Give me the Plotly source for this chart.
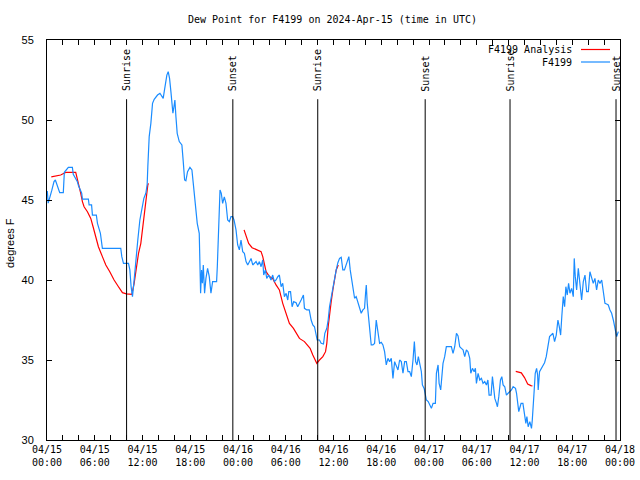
import pandas as pd
import plotly.graph_objects as go

BASE = pd.Timestamp("2024-04-15 00:00")

# Station observations (hours after 04/15 00:00 UTC, dew point F)
obs_hours = [0.04, 0.15, 0.6, 0.88, 1.05, 1.3, 1.6, 2.05, 2.18, 2.68, 3.19, 3.3, 3.82, 3.95, 4.36, 4.45,
             5.2, 5.29, 5.6, 5.71, 6.2, 6.34, 6.55, 6.71, 6.96, 9.27, 9.4, 9.61, 10.24, 10.41, 10.57, 10.74,
             10.91, 11.16, 11.41, 11.67, 11.92, 12.17, 12.42, 12.59, 12.67, 12.84, 13.05, 13.26, 13.47, 13.89,
             14.19, 14.43, 14.6, 14.73, 14.85, 15.06, 15.23, 15.4, 15.57, 15.69, 15.82, 15.95, 16.07, 16.2,
             16.36, 16.62, 16.95, 17.12, 17.29, 17.45, 17.66, 17.96, 18.21, 18.38, 18.63, 18.88, 19.13, 19.22,
             19.3, 19.42, 19.53, 19.64, 19.8, 19.97, 20.18, 20.39, 20.6, 20.81, 21.31, 21.4, 21.57, 21.74,
             21.9, 22.07, 22.28, 22.49, 22.7, 22.91, 23.12, 23.33, 23.5, 23.75, 23.96, 24.17, 24.38, 24.59,
             24.8, 25.01, 25.22, 25.43, 25.64, 25.85, 26.06, 26.27, 26.48, 26.69, 26.9, 27.11, 27.23, 27.44,
             27.61, 27.86, 28.15, 28.36, 28.57, 28.78, 29.0, 29.2, 29.42, 29.62, 29.83, 30.05, 30.25, 30.38,
             30.6, 30.8, 31.0, 31.3, 31.5, 31.7, 31.93, 32.22, 32.35, 32.64, 32.95, 33.19, 33.4, 33.61,
             33.82, 33.95, 34.24, 34.45, 34.74, 34.91, 35.16, 35.33, 35.5, 35.71, 35.92, 36.13, 36.34, 36.55,
             36.76, 36.97, 37.17, 37.38, 37.6, 37.8, 37.93, 38.1, 38.27, 38.43, 38.65, 38.85, 39.06, 39.27,
             39.48, 39.69, 39.9, 40.03, 40.12, 40.24, 40.45, 40.62, 40.74, 40.95, 41.16, 41.37, 41.58, 41.79,
             42.0, 42.21, 42.42, 42.63, 42.84, 43.05, 43.26, 43.47, 43.68, 43.89, 44.1, 44.31, 44.52, 44.73,
             44.94, 45.15, 45.36, 45.57, 45.78, 45.99, 46.16, 46.32, 46.49, 46.66, 46.83, 47.04, 47.17, 47.4,
             47.67, 47.9, 48.3, 48.51, 48.8, 48.93, 49.14, 49.27, 49.47, 49.6, 49.76, 49.97, 50.18, 50.81,
             51.02, 51.23, 51.45, 51.65, 51.86, 52.07, 52.28, 52.49, 52.7, 52.9, 53.12, 53.25, 53.46, 53.67,
             53.83, 53.96, 54.17, 54.38, 54.59, 54.79, 55.0, 55.22, 55.4, 55.55, 55.8, 55.97, 56.14, 56.27,
             56.48, 56.6, 56.77, 56.98, 57.15, 57.31, 57.52, 57.73, 57.94, 58.15, 58.36, 58.57, 58.87, 59.0,
             59.15, 59.28, 59.45, 59.57, 59.8, 60.04, 60.17, 60.3, 60.46, 60.67, 60.88, 60.98, 61.09, 61.22,
             61.35, 61.52, 61.65, 61.72, 61.89, 62.1, 62.31, 62.52, 62.73, 62.94, 63.15, 63.57, 63.78, 63.99,
             64.2, 64.37, 64.54, 64.7, 64.87, 65.04, 65.2, 65.37, 65.54, 65.71, 65.92, 66.13, 66.25, 66.38,
             66.55, 66.76, 66.97, 67.18, 67.39, 67.6, 67.81, 68.02, 68.22, 68.43, 68.64, 68.85, 69.06, 69.27,
             69.48, 69.7, 69.9, 70.11, 70.32, 70.53, 70.74, 70.95, 71.16, 71.37, 71.58, 71.79]
obs_values = [45.56, 44.8, 45.6, 46.15, 46.25, 45.83, 45.46, 45.46, 46.73, 47.04, 47.04, 46.6, 46.14, 45.9, 45.42, 45.06,
              45.06, 44.69, 44.69, 44.06, 44.06, 43.54, 43.17, 42.92, 41.98, 41.98, 41.46, 41.04, 41.04, 40.63, 39.58, 38.96,
              39.79, 41.46, 42.5, 43.75, 44.58, 45.1, 45.42, 46.0, 47.08, 48.96, 49.79, 51.04, 51.29, 51.56,
              51.67, 51.5, 51.35, 51.77, 52.29, 52.81, 53.02, 52.6, 51.77, 50.83, 50.42, 50.83, 51.25, 50.2,
              49.17, 48.65, 48.44, 47.4, 46.25, 46.2, 46.77, 47.04, 46.88, 46.04, 44.58, 43.54, 42.92, 41.04,
              39.17, 40.63, 39.8, 40.94, 39.17, 40.1, 40.73, 40.21, 39.17, 39.9, 39.9, 40.83, 43.13, 45.63,
              45.42, 44.79, 45.2, 44.79, 43.75, 43.65, 43.96, 43.96, 43.75, 43.13, 42.19, 41.88, 42.5, 41.77,
              41.67, 41.15, 40.94, 41.15, 41.35, 40.94, 41.04, 41.15, 40.94, 41.15, 40.83, 41.25, 40.31, 40.63,
              40.1, 40.31, 40.0, 40.31, 39.9, 40.0, 40.21, 40.31, 39.58, 39.79, 38.96, 39.17, 38.75, 39.27,
              39.27, 38.33, 38.65, 38.58, 38.33, 38.5, 38.75, 39.06, 38.23, 38.13, 38.13, 37.5, 37.19, 37.08,
              36.67, 36.25, 36.25, 36.04, 36.0, 36.67, 36.98, 37.5, 38.33, 38.96, 39.58, 40.21, 40.63, 41.08,
              41.35, 41.42, 40.63, 40.63, 40.94, 41.35, 41.46, 40.63, 40.0, 39.38, 38.86, 38.96, 38.65, 38.23,
              37.92, 38.13, 38.23, 39.17, 39.69, 38.54, 37.29, 36.46, 35.94, 35.94, 36.04, 37.5, 36.56, 36.04,
              36.1, 35.94, 35.52, 34.69, 35.1, 34.9, 35.1, 33.85, 34.9, 34.69, 34.38, 35.0, 34.9, 34.17,
              34.9, 34.9, 34.27, 34.27, 33.96, 35.0, 36.15, 34.9, 34.69, 35.21, 34.69, 34.27, 33.44, 33.2,
              32.5, 32.4, 31.98, 32.29, 32.29, 34.17, 34.69, 33.54, 33.13, 34.17, 34.79, 35.21, 35.83, 35.83,
              35.42, 35.83, 36.67, 36.5, 35.83, 35.73, 35.63, 35.21, 35.63, 35.52, 35.1, 34.17, 34.48, 34.27,
              34.48, 33.54, 34.17, 33.75, 33.85, 33.54, 33.65, 33.44, 33.75, 32.81, 32.81, 33.96, 33.33, 32.6,
              32.29, 32.08, 32.71, 33.75, 33.96, 33.44, 33.33, 32.81, 32.92, 33.02, 33.13, 33.33, 33.23, 32.92,
              32.4, 31.77, 32.08, 32.29, 32.29, 31.56, 31.04, 31.46, 30.83, 31.15, 30.73, 31.25, 32.5, 33.13,
              34.17, 34.48, 34.06, 33.13, 34.27, 34.48, 34.69, 34.83, 35.21, 35.83, 36.46, 36.67, 36.15, 36.56,
              37.5, 37.08, 36.56, 37.81, 38.96, 38.33, 39.58, 39.06, 39.79, 39.17, 39.48, 38.96, 41.35, 40.21,
              39.38, 40.73, 39.79, 38.75, 39.9, 40.31, 39.27, 39.27, 40.52, 40.1, 39.79, 40.1, 39.38, 40.0,
              39.79, 40.0, 39.17, 38.54, 38.5, 38.44, 38.13, 37.92, 37.5, 36.88, 36.46, 36.77]

# Analysis (three separate segments, None = gap)
ana_hours = [0.54, 1.0, 1.72, 2.14, 2.43, 3.61, 3.82, 4.03, 4.24, 4.45, 4.66, 5.08, 5.5, 5.79, 6.13, 6.46,
             6.96, 7.39, 7.89, 8.43, 8.98, 9.48, 9.98, 10.66, 10.95, 11.24, 11.5, 11.79, 12.0, 12.21, 12.34,
             12.5, 12.67, 12.75, 18.0,
             24.76, 25.01, 25.34, 25.77, 26.27, 26.9, 27.11, 27.32, 27.53, 27.95, 28.36, 28.78, 29.2, 29.62,
             30.05, 30.46, 30.97, 31.3, 31.72, 32.35, 32.77, 33.06, 33.4, 33.74, 33.9, 34.24, 34.66, 35.0,
             35.16, 35.33, 35.5, 35.71, 35.92, 36.17, 36.34, 36.6, 48.0,
             58.9, 59.3, 59.6, 60.0, 60.4, 60.8, 61.0]
ana_values = [46.44, 46.48, 46.56, 46.67, 46.73, 46.73, 46.35, 45.94, 45.42, 44.9, 44.58, 44.27, 43.85, 43.33, 42.71, 42.08,
              41.46, 40.94, 40.52, 40.0, 39.58, 39.21, 39.13, 39.1, 39.79, 40.83, 41.67, 42.29, 43.13, 43.96, 44.79,
              45.31, 45.94, 46.04, None,
              43.13, 42.71, 42.29, 42.02, 41.92, 41.77, 41.46, 40.94, 40.52, 40.21, 40.1, 39.69, 39.38, 38.54,
              37.92, 37.29, 36.98, 36.67, 36.35, 36.15, 35.94, 35.73, 35.31, 34.9, 34.79, 35.0, 35.21, 35.52,
              36.04, 37.08, 37.92, 38.65, 39.38, 40.1, 40.63, 40.94, None,
              34.29, 34.25, 34.2, 33.9, 33.5, 33.4, 33.375]

sun_hours = [10.0, 23.35, 34.02, 47.52, 58.18, 71.5]
sun_labels = ["Sunrise", "Sunset", "Sunrise", "Sunset", "Sunrise", "Sunset"]

title_text = "Dew Point for F4199 on 2024-Apr-15 (time in UTC)"
ylabel = "degrees F"
series_names = ["F4199 Analysis", "F4199"]
series_colors = ["#ff0000", "#1a8cff"]

y_range = [30, 55]
y_ticks = [30, 35, 40, 45, 50, 55]

def to_time(hours):
    return [BASE + pd.Timedelta(hours=h) for h in hours]

MONO = "DejaVu Sans Mono"
SANS = "Liberation Sans"

fig = go.Figure()
fig.add_trace(go.Scatter(x=to_time(ana_hours), y=ana_values, mode="lines", name=series_names[0],
                         line=dict(color=series_colors[0], width=1.2), connectgaps=False))
fig.add_trace(go.Scatter(x=to_time(obs_hours), y=obs_values, mode="lines", name=series_names[1],
                         line=dict(color=series_colors[1], width=1.2)))

# Sunrise / sunset markers
for h, lab in zip(sun_hours, sun_labels):
    t = BASE + pd.Timedelta(hours=h)
    fig.add_shape(type="line", xref="x", yref="y", x0=t, x1=t, y0=30, y1=51.3,
                  line=dict(color="black", width=1))
    fig.add_annotation(x=t, y=51.72, xref="x", yref="y", text=lab, textangle=-90, showarrow=False,
                       xanchor="center", yanchor="bottom", font=dict(family=MONO, size=10, color="black"),
                       borderpad=0)

# x ticks every 2h, labels every 6h
tick_hours = list(range(0, 73, 2))
tickvals = to_time(tick_hours)
ticktext = [(BASE + pd.Timedelta(hours=h)).strftime("%m/%d<br>%H:%M") if h % 6 == 0 else "" for h in tick_hours]

W, H = 640, 480
L, R, T, B = 47, 20, 40, 40
pw, ph = W - L - R, H - T - B

def px(xp):
    return (xp - L) / pw

def py(yp):
    return (H - B - yp) / ph

# Title
fig.add_annotation(x=px(332), y=py(19), xref="paper", yref="paper", text=title_text, showarrow=False,
                   xanchor="center", yanchor="middle", font=dict(family=MONO, size=10, color="black"))
# Y label
fig.add_annotation(x=px(10), y=py(243), xref="paper", yref="paper", text=ylabel, showarrow=False,
                   textangle=-90, xanchor="center", yanchor="middle",
                   font=dict(family=SANS, size=11, color="black"))
# Legend (gnuplot style: text right-aligned, sample on the right)
for i, (nm, col) in enumerate(zip(series_names, series_colors)):
    yy = 49.5 + 12.5 * i
    fig.add_annotation(x=px(574), y=py(yy), xref="paper", yref="paper", text=nm, showarrow=False,
                       xanchor="right", yanchor="middle", font=dict(family=MONO, size=10, color="black"))
    fig.add_shape(type="line", xref="paper", yref="paper", x0=px(581), x1=px(610), y0=py(yy), y1=py(yy),
                  line=dict(color=col, width=1.2))

fig.update_layout(
    width=W, height=H, margin=dict(l=L, r=R, t=T, b=B, autoexpand=False),
    paper_bgcolor="white", plot_bgcolor="white", showlegend=False,
    font=dict(family=MONO, size=10, color="black"),
)
fig.update_xaxes(type="date", range=[BASE, BASE + pd.Timedelta(hours=72)],
                 tickmode="array", tickvals=tickvals, ticktext=ticktext,
                 ticks="inside", ticklen=5, tickcolor="black", tickwidth=1,
                 showline=True, linecolor="black", linewidth=1, mirror="allticks",
                 showgrid=False, zeroline=False, tickangle=0, automargin=False,
                 tickfont=dict(family=MONO, size=10, color="black"))
fig.update_yaxes(range=y_range, tickmode="array", tickvals=y_ticks,
                 ticks="inside", ticklen=5, tickcolor="black", tickwidth=1,
                 showline=True, linecolor="black", linewidth=1, mirror="allticks",
                 showgrid=False, zeroline=False, ticklabelstandoff=10, automargin=False,
                 tickfont=dict(family=SANS, size=11, color="black"))

fig.write_html("out.html", config={"displayModeBar": False},
               post_script="document.body.style.margin='0';document.body.style.padding='0';")
